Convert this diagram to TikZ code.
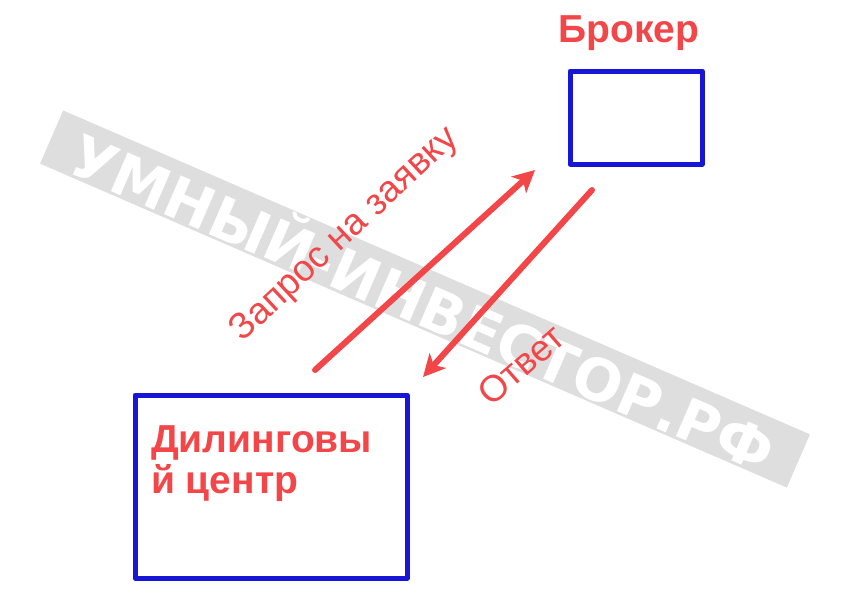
\documentclass[tikz,border=0pt]{standalone}
\usepackage{fontspec}
\setmainfont{Liberation Sans}
\newfontfamily\wmfont{DejaVu Sans}
\usetikzlibrary{arrows.meta}
\definecolor{rred}{RGB}{242,70,72}
\definecolor{bblue}{RGB}{24,22,214}
\definecolor{wmgray}{RGB}{222,222,222}
\tikzset{
  boxstyle/.style={draw=bblue, line width=5pt, line join=round, fill=none, inner sep=0pt},
  redlabel/.style={text=rred, font=\bfseries\fontsize{39}{41}\selectfont, inner sep=0pt},
  arrowlabel/.style={text=rred, font=\fontsize{37}{40}\selectfont, inner sep=0pt},
  flowarrow/.style={draw=rred, line width=6pt, line cap=round, -{Stealth[length=22pt,width=22pt,inset=6pt]}},
  watermark/.style={fill=wmgray, text=white, font=\wmfont\bfseries\fontsize{58}{64}\selectfont, minimum width=814pt, minimum height=58pt, inner sep=0pt}
}
\begin{document}
\begin{tikzpicture}[x=1pt,y=-1pt]
\useasboundingbox[fill=white] (0,0) rectangle (850,600);
% watermark band
\node[watermark, rotate=-23.45] (wm) at (425,299) {УМНЫЙ-ИНВЕСТОР.РФ};
% broker
\node[boxstyle, minimum width=132pt, minimum height=93pt] (broker) at (636,117.5) {};
\node[redlabel] (brokerlbl) at (629,33) {Брокер};
% dealing centre
\node[boxstyle, minimum width=272pt, minimum height=183pt] (dealer) at (271,486.5) {};
\node[redlabel, anchor=north west, align=left] (dealerlbl) at (151,425) {Дилинговы\\й центр};
% arrow end points
\coordinate (reqstart) at (315,370);
\coordinate (reqend) at (535,170);
\coordinate (ansstart) at (592,190);
\coordinate (ansend) at (423,377);
\draw[flowarrow] (reqstart) -- (reqend);
\draw[flowarrow] (ansstart) -- (ansend);
\node[arrowlabel, rotate=43] (reqlbl) at (345,235) {Запрос на заявку};
\node[arrowlabel, rotate=41] (anslbl) at (521,365) {Ответ};
\end{tikzpicture}
\end{document}
